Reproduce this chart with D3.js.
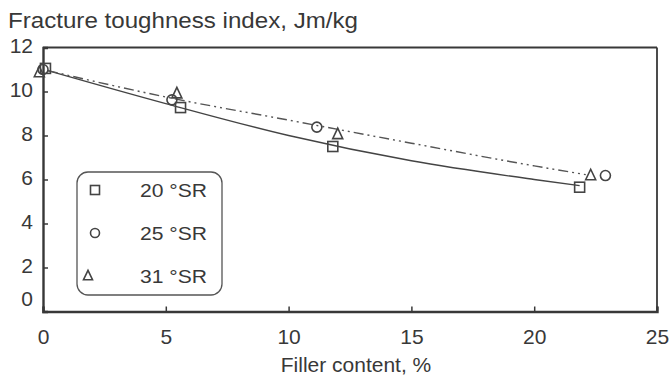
<!DOCTYPE html>
<html><head><meta charset="utf-8">
<script src="https://cdn.jsdelivr.net/npm/d3@7"></script>
<style>body{margin:0;background:#fff}svg{display:block}text{font-family:"Liberation Sans",Arial,sans-serif;fill:#383838}</style>
</head><body>
<svg id="c" width="672" height="380"></svg>
<script>
// Data
const seriesNames = ["20 °SR", "25 °SR", "31 °SR"];
const sr20x = [0.1, 5.6, 11.8, 21.85];
const sr20y = [11.05, 9.27, 7.5, 5.65];
const sr25x = [0.0, 5.25, 11.15, 22.9];
const sr25y = [11.0, 9.62, 8.38, 6.18];
const sr31x = [-0.15, 5.45, 12.0, 22.3];
const sr31y = [10.86, 9.9, 8.05, 6.18];
// fitted curves
const solidFitX = [0.2, 5, 10, 15, 20, 21.85];
const solidFitY = [10.95, 9.45, 8.0, 6.85, 6.0, 5.72];
const dashFitX = [0.2, 5, 10, 15, 20, 22.1];
const dashFitY = [10.95, 9.75, 8.7, 7.65, 6.62, 6.22];
const xTicks = [0, 5, 10, 15, 20, 25];
const yTicks = [0, 2, 4, 6, 8, 10, 12];
const yTitle = "Fracture toughness index, Jm/kg";
const xTitle = "Filler content, %";

const svg = d3.select("#c");
const x = d3.scaleLinear().domain([0, 25]).range([43, 657]);
const y = d3.scaleLinear().domain([0, 12]).range([311.5, 47.5]);
const ink = "#383838";

// frame
svg.append("line").attr("x1", x(0)).attr("x2", x(25)).attr("y1", y(12)).attr("y2", y(12)).attr("stroke", ink).attr("stroke-width", 1.8);
svg.append("line").attr("x1", x(25)).attr("x2", x(25)).attr("y1", y(12)).attr("y2", y(0)).attr("stroke", ink).attr("stroke-width", 1.8);

// axes
const gx = svg.append("g").attr("transform", `translate(0,${y(0)})`)
  .call(d3.axisBottom(x).tickValues(xTicks).tickSize(-5).tickPadding(18).tickFormat(d3.format("d")));
const gy = svg.append("g").attr("transform", `translate(${x(0)},0)`)
  .call(d3.axisLeft(y).tickValues(yTicks).tickSize(-5).tickPadding(10).tickFormat(d3.format("d")));
[gx, gy].forEach(g => {
  g.select(".domain").attr("stroke", ink).attr("stroke-width", 2.4);
  g.selectAll(".tick line").attr("stroke", ink).attr("stroke-width", 1.5);
  g.selectAll(".tick text").style("font-size", "21px").attr("fill", ink);
});
gy.selectAll(".tick text").attr("dy", d => d === 0 ? "-0.3em" : "0.22em");

// titles
svg.append("text").attr("x", 8).attr("y", 28).style("font-size", "22px")
  .attr("textLength", 350).attr("lengthAdjust", "spacingAndGlyphs").text(yTitle);
svg.append("text").attr("x", 356).attr("y", 372).attr("text-anchor", "middle").style("font-size", "21px").text(xTitle);

// fit lines
const line = d3.line().x(d => x(d[0])).y(d => y(d[1])).curve(d3.curveMonotoneX);
svg.append("path").datum(d3.zip(solidFitX, solidFitY)).attr("d", line)
  .attr("fill", "none").attr("stroke", "#444").attr("stroke-width", 1.4);
svg.append("path").datum(d3.zip(dashFitX, dashFitY)).attr("d", line)
  .attr("fill", "none").attr("stroke", "#555").attr("stroke-width", 1.4)
  .attr("stroke-dasharray", "10,4,2,4,2,4");

// markers
const mk = { stroke: "#444", sw: 1.6 };
function square(g, cx, cy, s) {
  g.append("rect").attr("x", cx - s / 2).attr("y", cy - s / 2).attr("width", s).attr("height", s)
    .attr("fill", "none").attr("stroke", mk.stroke).attr("stroke-width", mk.sw);
}
function circle(g, cx, cy, r) {
  g.append("circle").attr("cx", cx).attr("cy", cy).attr("r", r)
    .attr("fill", "none").attr("stroke", mk.stroke).attr("stroke-width", mk.sw);
}
function tri(g, cx, cy, s) {
  const h = s * 1.05;
  g.append("path").attr("d", `M${cx},${cy - h * 0.6}L${cx + s / 2},${cy + h * 0.4}L${cx - s / 2},${cy + h * 0.4}Z`)
    .attr("fill", "none").attr("stroke", mk.stroke).attr("stroke-width", mk.sw);
}
const gm = svg.append("g");
sr25x.forEach((v, i) => circle(gm, x(v), y(sr25y[i]), 5));
sr31x.forEach((v, i) => tri(gm, x(v), y(sr31y[i]), 10));
sr20x.forEach((v, i) => square(gm, x(v), y(sr20y[i]), 10));

// legend
const lg = svg.append("g");
lg.append("rect").attr("x", 77).attr("y", 172).attr("width", 145).attr("height", 123).attr("rx", 11)
  .attr("fill", "none").attr("stroke", "#555").attr("stroke-width", 1.3);
const legY = [190, 233, 276];
square(lg, 95, legY[0], 9);
circle(lg, 95, legY[1], 4.5);
tri(lg, 88, legY[2], 9);
seriesNames.forEach((n, i) => lg.append("text").attr("x", 140).attr("y", legY[i] + 7)
  .style("font-size", "19px").attr("textLength", 67).attr("lengthAdjust", "spacingAndGlyphs").text(n));
</script>
</body></html>
